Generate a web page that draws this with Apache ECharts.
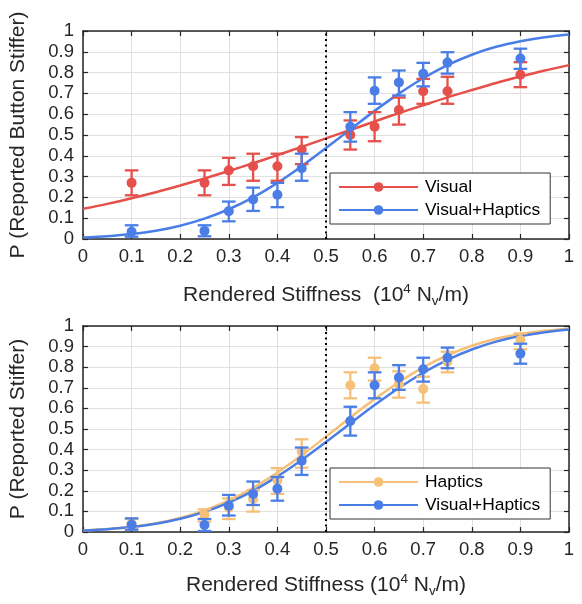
<!DOCTYPE html>
<html><head><meta charset="utf-8">
<script src="https://cdn.jsdelivr.net/npm/echarts@6/dist/echarts.min.js"></script>
<style>html,body{margin:0;padding:0;background:#fff}#c{width:582px;height:604px}</style>
</head><body><div id="c"></div>
<script>
// Stimulus levels (10^4 N_v/m)
const xs = [0.1, 0.25, 0.3, 0.35, 0.4, 0.45, 0.55, 0.6, 0.65, 0.7, 0.75, 0.9];
// Top panel: Visual
const visP  = [0.27, 0.27, 0.33, 0.35, 0.35, 0.43, 0.50, 0.54, 0.62, 0.71, 0.71, 0.79];
const visLo = [0.21, 0.21, 0.26, 0.28, 0.28, 0.36, 0.43, 0.47, 0.55, 0.65, 0.65, 0.73];
const visHi = [0.33, 0.33, 0.39, 0.41, 0.41, 0.49, 0.57, 0.61, 0.68, 0.77, 0.78, 0.85];
// Top panel: Visual+Haptics
const vhTP  = [0.035, 0.039, 0.134, 0.19, 0.213, 0.34, 0.54, 0.713, 0.753, 0.794, 0.848, 0.868];
const vhTLo = [0.011, 0.013, 0.085, 0.135, 0.153, 0.28, 0.468, 0.65, 0.69, 0.734, 0.795, 0.818];
const vhTHi = [0.066, 0.066, 0.18, 0.247, 0.27, 0.41, 0.61, 0.777, 0.81, 0.847, 0.898, 0.915];
// Bottom panel: Haptics
const hapP  = [0.04, 0.083, 0.118, 0.159, 0.25, 0.39, 0.712, 0.795, 0.717, 0.694, 0.827, 0.932];
const hapLo = [0.015, 0.05, 0.063, 0.099, 0.185, 0.312, 0.649, 0.735, 0.652, 0.628, 0.775, 0.887];
const hapHi = [0.065, 0.11, 0.163, 0.204, 0.31, 0.45, 0.775, 0.846, 0.78, 0.754, 0.875, 0.964];
// Bottom panel: Visual+Haptics
const vhBP  = [0.035, 0.034, 0.128, 0.185, 0.21, 0.346, 0.539, 0.712, 0.75, 0.79, 0.846, 0.866];
const vhBLo = [0.011, 0.005, 0.08, 0.131, 0.152, 0.277, 0.468, 0.649, 0.69, 0.73, 0.795, 0.817];
const vhBHi = [0.066, 0.063, 0.18, 0.245, 0.267, 0.41, 0.608, 0.775, 0.81, 0.846, 0.895, 0.914];
// Fitted curves at 0.05 steps
const cx = [0,0.05,0.1,0.15,0.2,0.25,0.3,0.35,0.4,0.45,0.5,0.55,0.6,0.65,0.7,0.75,0.8,0.85,0.9,0.95,1];
const visCurve = [0.145,0.169,0.196,0.225,0.257,0.291,0.327,0.364,0.403,0.443,0.484,0.524,0.565,0.605,0.643,0.681,0.716,0.750,0.781,0.810,0.836];
const vhCurve  = [0.0075,0.0137,0.024,0.040,0.064,0.098,0.143,0.200,0.270,0.350,0.437,0.527,0.616,0.699,0.773,0.836,0.886,0.924,0.951,0.970,0.983];
const hapCurve = [0.0078,0.0144,0.0254,0.0426,0.0684,0.1046,0.153,0.2145,0.2884,0.372,0.463,0.556,0.645,0.727,0.799,0.858,0.904,0.938,0.961,0.977,0.987];
const xTicks = [0,0.1,0.2,0.3,0.4,0.5,0.6,0.7,0.8,0.9,1];
const yTicks = [0,0.1,0.2,0.3,0.4,0.5,0.6,0.7,0.8,0.9,1];
const topXName = 'Rendered Stiffness  (10{sup|4} N{sub|v}/m)';
const botXName = 'Rendered Stiffness (10{sup|4} N{sub|v}/m)';
const topYName = 'P (Reported Button Stiffer)';
const botYName = 'P (Reported Stiffer)';

const RED='#e5504a', BLUE='#4a7ee6', ORANGE='#f6c078';
const FONT='Liberation Sans';
const TXT='#262626';
const zip = (a,b)=>a.map((v,i)=>[v,b[i]]);
const pts = (p,lo,hi)=>xs.map((x,i)=>[x,p[i],lo[i],hi[i]]);

function errItem(color){
  return function(params, api){
    const x=api.value(0), y=api.value(1), lo=api.value(2), hi=api.value(3);
    const p=api.coord([x,y]), a=api.coord([x,lo]), b=api.coord([x,hi]);
    const w=6.8, st={stroke:color, lineWidth:2.3};
    return {type:'group', children:[
      {type:'line', shape:{x1:p[0],y1:a[1],x2:p[0],y2:b[1]}, style:st},
      {type:'line', shape:{x1:p[0]-w,y1:a[1],x2:p[0]+w,y2:a[1]}, style:st},
      {type:'line', shape:{x1:p[0]-w,y1:b[1],x2:p[0]+w,y2:b[1]}, style:st},
      {type:'circle', shape:{cx:p[0],cy:p[1],r:5}, style:{fill:color}}
    ]};
  };
}

const grids=[{left:79,top:31,width:490,height:208},{left:79,top:326,width:490,height:206}];
function xAxisMain(gi, name, gap){
  return {type:'value', gridIndex:gi, min:0, max:1, interval:0.1, position:'bottom',
    name:name, nameLocation:'middle', nameGap:gap,
    nameTextStyle:{fontFamily:FONT, fontSize:21, color:TXT,
      rich:{sup:{fontSize:13.5, verticalAlign:'top', padding:[0,0,12,0], fontFamily:FONT, color:TXT},
            sub:{fontSize:13.5, verticalAlign:'bottom', padding:[12,0,0,0], fontFamily:FONT, color:TXT}}},
    axisLine:{show:true, onZero:false, lineStyle:{color:TXT, width:1.5}},
    axisTick:{show:true, inside:true, length:5, lineStyle:{color:TXT, width:1.2}},
    axisLabel:{fontFamily:FONT, fontSize:18.5, color:TXT, margin:8,
      formatter:v=>{const t=xTicks.find(k=>Math.abs(k-v)<1e-6); return t===undefined?'':String(t);}},
    splitLine:{show:true, lineStyle:{color:'#e0e0e0', width:1}}
  };
}
function xAxisTop(gi){
  return {type:'value', gridIndex:gi, min:0, max:1, interval:0.1, position:'top',
    axisLine:{show:true, onZero:false, lineStyle:{color:TXT, width:1.5}},
    axisTick:{show:true, inside:true, length:5, lineStyle:{color:TXT, width:1.2}},
    axisLabel:{show:false}, splitLine:{show:false}};
}
function yAxisMain(gi, name){
  return {type:'value', gridIndex:gi, min:0, max:1, interval:0.1, position:'left',
    name:name, nameLocation:'middle', nameGap:54,
    nameTextStyle:{fontFamily:FONT, fontSize:21, color:TXT},
    axisLine:{show:true, onZero:false, lineStyle:{color:TXT, width:1.5}},
    axisTick:{show:true, inside:true, length:5, lineStyle:{color:TXT, width:1.2}},
    axisLabel:{fontFamily:FONT, fontSize:18.5, color:TXT, margin:9,
      formatter:v=>{const t=yTicks.find(k=>Math.abs(k-v)<1e-6); return t===undefined?'':String(t);}},
    splitLine:{show:true, lineStyle:{color:'#e0e0e0', width:1}}
  };
}
function yAxisRight(gi){
  return {type:'value', gridIndex:gi, min:0, max:1, interval:0.1, position:'right',
    axisLine:{show:true, onZero:false, lineStyle:{color:TXT, width:1.5}},
    axisTick:{show:true, inside:true, length:5, lineStyle:{color:TXT, width:1.2}},
    axisLabel:{show:false}, splitLine:{show:false}};
}
function curve(name, color, data, xi, yi, z, withLine){
  const s = {type:'line', name:name, xAxisIndex:xi, yAxisIndex:yi, data:data, smooth:0.3,
    symbol:'circle', symbolSize:10, showSymbol:false, itemStyle:{color:color},
    lineStyle:{color:color, width:2.5}, z:z, silent:true, animation:false};
  if(withLine){
    s.markLine={silent:true, symbol:['none','none'], label:{show:false},
      lineStyle:{color:'#000', type:[2,3.5], width:2}, data:[{xAxis:0.5}], animation:false};
  }
  return s;
}
function errSeries(name, color, data, xi, yi, z){
  return {type:'custom', name:name, xAxisIndex:xi, yAxisIndex:yi, data:data,
    renderItem:errItem(color), z:z, silent:true, animation:false,
    encode:{x:0, y:[1,2,3]}};
}
const legendBase = {orient:'vertical', left:330, itemWidth:79, itemHeight:12, itemGap:5,
  padding:[5,10,5,8], borderColor:'#333', borderWidth:1, backgroundColor:'#fff',
  textStyle:{fontFamily:FONT, fontSize:17.4, lineHeight:18, color:'#000', padding:[0,0,0,2]},
  selectedMode:false};

const option = {
  animation:false,
  grid: grids,
  xAxis:[xAxisMain(0, topXName, 43), xAxisTop(0), xAxisMain(1, botXName, 40), xAxisTop(1)],
  yAxis:[yAxisMain(0, topYName), yAxisRight(0), yAxisMain(1, botYName), yAxisRight(1)],
  legend:[
    Object.assign({}, legendBase, {top:173, data:['Visual','Visual+Haptics']}),
    Object.assign({}, legendBase, {top:468, data:['Haptics','Visual+Haptics']})
  ],
  series:[
    curve('Visual', RED, zip(cx,visCurve), 0, 0, 3, true),
    curve('Visual+Haptics', BLUE, zip(cx,vhCurve), 0, 0, 4, false),
    errSeries('Visual', RED, pts(visP,visLo,visHi), 0, 0, 5),
    errSeries('Visual+Haptics', BLUE, pts(vhTP,vhTLo,vhTHi), 0, 0, 6),
    curve('Haptics', ORANGE, zip(cx,hapCurve), 2, 2, 3, true),
    curve('Visual+Haptics', BLUE, zip(cx,vhCurve), 2, 2, 4, false),
    errSeries('Haptics', ORANGE, pts(hapP,hapLo,hapHi), 2, 2, 5),
    errSeries('Visual+Haptics', BLUE, pts(vhBP,vhBLo,vhBHi), 2, 2, 6)
  ]
};
const chart = echarts.init(document.getElementById('c'), null, {renderer:'canvas'});
chart.setOption(option);
</script></body></html>
